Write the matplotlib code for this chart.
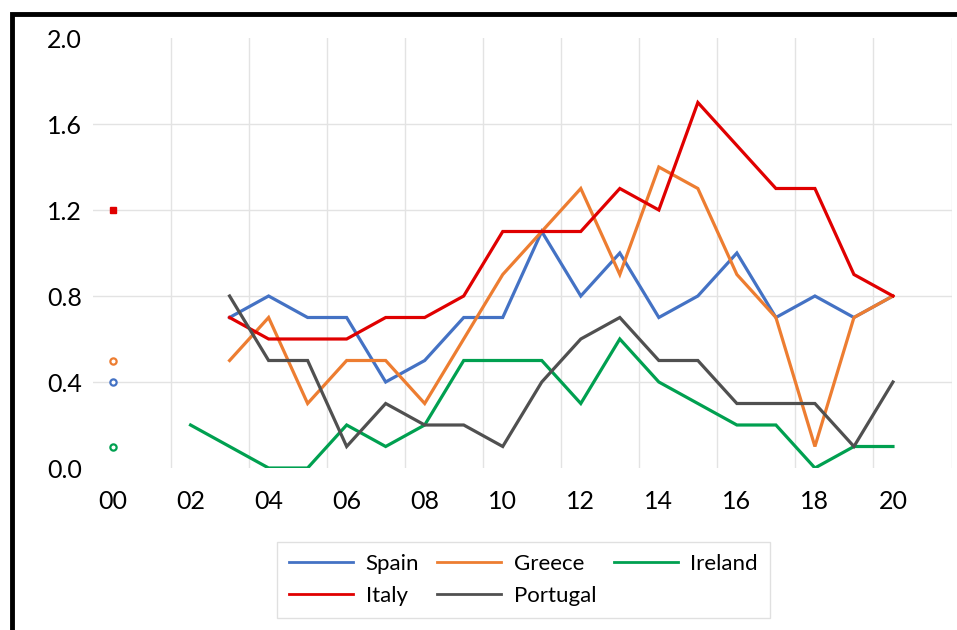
import matplotlib
matplotlib.use('Agg')
import matplotlib.pyplot as plt
from matplotlib.patches import Rectangle

# years as offsets from 2000
years = list(range(0, 21))

# None = no value for that year
spain = [0.4, None, None, 0.7, 0.8, 0.7, 0.7, 0.4, 0.5, 0.7, 0.7, 1.1, 0.8, 1.0, 0.7, 0.8, 1.0, 0.7, 0.8, 0.7, 0.8]
greece = [0.5, None, None, 0.5, 0.7, 0.3, 0.5, 0.5, 0.3, 0.6, 0.9, 1.1, 1.3, 0.9, 1.4, 1.3, 0.9, 0.7, 0.1, 0.7, 0.8]
ireland = [0.1, None, 0.2, 0.1, 0.0, 0.0, 0.2, 0.1, 0.2, 0.5, 0.5, 0.5, 0.3, 0.6, 0.4, 0.3, 0.2, 0.2, 0.0, 0.1, 0.1]
italy = [1.2, None, None, 0.7, 0.6, 0.6, 0.6, 0.7, 0.7, 0.8, 1.1, 1.1, 1.1, 1.3, 1.2, 1.7, 1.5, 1.3, 1.3, 0.9, 0.8]
portugal = [None, None, None, 0.8, 0.5, 0.5, 0.1, 0.3, 0.2, 0.2, 0.1, 0.4, 0.6, 0.7, 0.5, 0.5, 0.3, 0.3, 0.3, 0.1, 0.4]

xtick_pos = list(range(0, 21, 2))
xtick_labels = ['%02d' % y for y in xtick_pos]
ytick_pos = [0.0, 0.4, 0.8, 1.2, 1.6, 2.0]

series = [
    ('Spain', spain, '#4472C4', 'o'),
    ('Greece', greece, '#ED7D31', 'o'),
    ('Ireland', ireland, '#00A050', 'o'),
    ('Italy', italy, '#E00000', 's'),
    ('Portugal', portugal, '#505050', 'o'),
]

plt.rcParams['font.family'] = ['Lato', 'DejaVu Sans']

fig = plt.figure(figsize=(9.57, 6.30), dpi=100)
ax = fig.add_axes([93 / 957, 1 - 468 / 630, (951.5 - 93) / 957, (468 - 38) / 630])

# light grid (Excel style: vertical lines between categories)
for gx in [x + 0.5 for x in range(1, 22, 2)]:
    ax.axvline(gx, color='#e3e3e3', lw=1, zorder=0)
for gy in ytick_pos[1:-1]:
    ax.axhline(gy, color='#e3e3e3', lw=1, zorder=0)

handles = {}
for name, vals, color, mk in series:
    # lines start where the series becomes continuous
    first = next(i for i in range(1, len(vals)) if vals[i] is not None)
    xs = years[first:]
    ys = vals[first:]
    line, = ax.plot(xs, ys, color=color, lw=2.3, solid_joinstyle='miter', zorder=3)
    handles[name] = line
    # lone point at year 00
    if vals[0] is not None:
        if mk == 's':
            ax.plot([0], [vals[0]], marker='s', ms=5, color=color, mec=color, zorder=4)
        else:
            ax.plot([0], [vals[0]], marker='o', ms=4.5, mfc='white', mec=color, mew=1.6, zorder=4)

ax.set_xlim(-0.5, 21.5)
ax.set_ylim(0, 2.0)
ax.set_xticks(xtick_pos)
ax.set_xticklabels(xtick_labels)
ax.set_yticks(ytick_pos)
ax.set_yticklabels(['%.1f' % v for v in ytick_pos])
ax.tick_params(axis='both', length=0, labelsize=18, colors='black')
ax.tick_params(axis='x', pad=16)
ax.tick_params(axis='y', pad=8)
for s in ax.spines.values():
    s.set_visible(False)

order = ['Spain', 'Italy', 'Greece', 'Portugal', 'Ireland']
leg = fig.legend([handles[n] for n in order], order, ncol=3, loc='center',
                 bbox_to_anchor=(523.5 / 957, 1 - 580 / 630), fontsize=16,
                 frameon=True, fancybox=False, edgecolor='#d9d9d9',
                 handlelength=2.9, handletextpad=0.55, columnspacing=0.8,
                 labelspacing=0.55, borderpad=0.55)
leg.get_frame().set_linewidth(1)
for l in leg.get_lines():
    l.set_linewidth(2)

# thick black frame (cropped at right and bottom)
fig.patches.append(Rectangle((11.5 / 957, -0.1), 1.2, 1 - 14 / 630 + 0.1,
                             transform=fig.transFigure, fill=False,
                             edgecolor='black', lw=3.5, zorder=10))

fig.savefig('out.png', dpi=100)
